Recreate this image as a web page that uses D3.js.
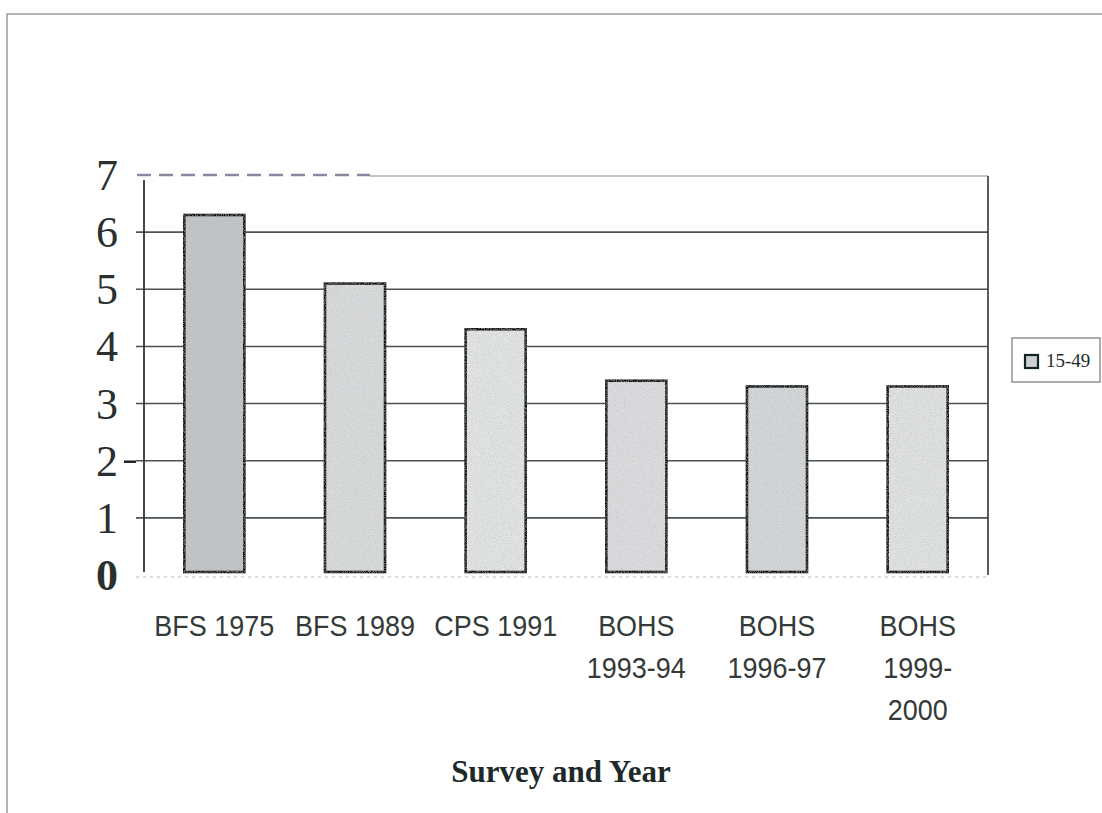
<!DOCTYPE html>
<html lang="en">
<head>
    <meta charset="UTF-8">
    <title>Survey and Year</title>
    <script src="https://d3js.org/d3.v7.min.js"></script>
    <style>
        body { margin: 0; background: #fff; }
    </style>
</head>
<body>

    <script>

        var categories = [["BFS 1975"], ["BFS 1989"], ["CPS 1991"], ["BOHS", "1993-94"], ["BOHS", "1996-97"], ["BOHS", "1999-", "2000"]];
        var values = [6.3, 5.1, 4.3, 3.4, 3.3, 3.3];
        var yTicks = [0, 1, 2, 3, 4, 5, 6, 7];
        var seriesName = "15-49";
        var barFills = ["#c2c5c7", "#d8dadc", "#e2e4e5", "#dadcde", "#d4d7d9", "#e0e2e3"];

        var width = 1102;
        var height = 813;
        var plotLeft = 144, plotRight = 988, plotTop = 175, plotBottom = 575;

        var keys = categories.map(function (d) { return d.join(" "); });

        var x = d3.scaleBand()
            .domain(keys)
            .range([plotLeft, plotRight])
            .paddingInner(0.573)
            .paddingOuter(0.2865);

        var y = d3.scaleLinear()
            .domain([0, 7])
            .range([plotBottom, plotTop]);

        var svg = d3.select("body")
            .append("svg")
            .attr("width", width)
            .attr("height", height);

        // grainy look of the scanned bars
        var grain = svg.append("defs").append("filter").attr("id", "grain");
        grain.append("feTurbulence")
            .attr("type", "fractalNoise")
            .attr("baseFrequency", 0.85)
            .attr("numOctaves", 2)
            .attr("seed", 3)
            .attr("result", "noise");
        grain.append("feColorMatrix")
            .attr("in", "noise")
            .attr("type", "matrix")
            .attr("values", "0 0 0 0 0.45  0 0 0 0 0.46  0 0 0 0 0.47  0 0 0 1.2 -0.5")
            .attr("result", "dots");
        grain.append("feComposite")
            .attr("in", "dots")
            .attr("in2", "SourceGraphic")
            .attr("operator", "in")
            .attr("result", "clipped");
        var merge = grain.append("feMerge");
        merge.append("feMergeNode").attr("in", "SourceGraphic");
        merge.append("feMergeNode").attr("in", "clipped");

        // outer frame of the scanned page
        svg.append("path")
            .attr("d", "M7," + height + "V14H" + width)
            .attr("fill", "none")
            .attr("stroke", "#9a9a9a")
            .attr("stroke-width", 1.5);

        // grid lines
        svg.append("g")
            .selectAll("line")
            .data(yTicks.filter(function (d) { return d > 0 && d < 7; }))
            .enter()
                .append("line")
                .attr("x1", plotLeft - 8)
                .attr("x2", plotRight)
                .attr("y1", function (d) { return y(d); })
                .attr("y2", function (d) { return y(d); })
                .attr("stroke", "#4a5552")
                .attr("stroke-width", 1.6);

        // top border: dashed part then solid
        svg.append("line")
            .attr("x1", plotLeft - 7).attr("x2", 370)
            .attr("y1", y(7)).attr("y2", y(7))
            .attr("stroke", "#8a88a0")
            .attr("stroke-width", 2.5)
            .attr("stroke-dasharray", "14,8");
        svg.append("line")
            .attr("x1", 370).attr("x2", plotRight)
            .attr("y1", y(7) + 1).attr("y2", y(7) + 1)
            .attr("stroke", "#8c8c8c")
            .attr("stroke-width", 1.2);

        // right border
        svg.append("line")
            .attr("x1", plotRight).attr("x2", plotRight)
            .attr("y1", y(7) + 1).attr("y2", plotBottom)
            .attr("stroke", "#333")
            .attr("stroke-width", 1.6);

        // left axis line
        svg.append("line")
            .attr("x1", plotLeft).attr("x2", plotLeft)
            .attr("y1", y(7) + 5).attr("y2", plotBottom - 3)
            .attr("stroke", "#333")
            .attr("stroke-width", 1.8);

        // faint bottom axis
        svg.append("line")
            .attr("x1", plotLeft - 8).attr("x2", plotRight)
            .attr("y1", plotBottom + 2).attr("y2", plotBottom + 2)
            .attr("stroke", "#bbb")
            .attr("stroke-width", 1)
            .attr("stroke-dasharray", "3,4");

        // bars
        svg.append("g")
            .selectAll("rect")
            .data(values)
            .enter()
                .append("rect")
                .attr("x", function (d, i) { return x(keys[i]); })
                .attr("width", x.bandwidth())
                .attr("y", function (d) { return y(d); })
                .attr("height", function (d) { return y(0) - y(d) - 3; })
                .attr("fill", function (d, i) { return barFills[i]; })
                .attr("filter", "url(#grain)")
                .attr("stroke", "#111")
                .attr("stroke-width", 2.6);

        // y tick labels
        svg.append("g")
            .selectAll("text")
            .data(yTicks)
            .enter()
                .append("text")
                .attr("x", 118)
                .attr("y", function (d) { return y(d); })
                .attr("dy", "0.34em")
                .attr("text-anchor", "end")
                .attr("font-family", "'Liberation Serif', 'Times New Roman', serif")
                .attr("font-size", 44)
                .attr("font-weight", function (d) { return d === 0 ? "bold" : "normal"; })
                .attr("fill", "#2a302e")
                .text(function (d) { return d; });

        // little tick mark next to the 2
        svg.append("line")
            .attr("x1", 124).attr("x2", 136)
            .attr("y1", y(2) + 1).attr("y2", y(2) + 1)
            .attr("stroke", "#222")
            .attr("stroke-width", 2.5);

        // x labels
        var xl = svg.append("g")
            .selectAll("g")
            .data(categories)
            .enter()
                .append("g")
                .attr("transform", function (d, i) {
                    return "translate(" + (x(keys[i]) + x.bandwidth() / 2) + ",636) scale(0.93,1)";
                })
                .append("text")
                .attr("text-anchor", "middle")
                .attr("font-family", "'Liberation Sans', Arial, sans-serif")
                .attr("font-size", 29)
                .attr("fill", "#333a38");

        xl.selectAll("tspan")
            .data(function (d) { return d; })
            .enter()
                .append("tspan")
                .attr("x", 0)
                .attr("dy", function (d, i) { return i === 0 ? 0 : 42; })
                .text(function (d) { return d; });

        // axis title
        svg.append("text")
            .attr("x", 561)
            .attr("y", 782)
            .attr("text-anchor", "middle")
            .attr("font-family", "'Liberation Serif', 'Times New Roman', serif")
            .attr("font-size", 31)
            .attr("font-weight", "bold")
            .attr("fill", "#1e2a2a")
            .text("Survey and Year");

        // legend
        var legend = svg.append("g").attr("transform", "translate(1012, 338)");
        legend.append("rect")
            .attr("width", 88).attr("height", 44)
            .attr("fill", "#fff")
            .attr("stroke", "#777")
            .attr("stroke-width", 1.2);
        legend.append("rect")
            .attr("x", 13).attr("y", 17)
            .attr("width", 13).attr("height", 13)
            .attr("fill", "#ccd0d0")
            .attr("stroke", "#112222")
            .attr("stroke-width", 2.2);
        legend.append("text")
            .attr("x", 34).attr("y", 29)
            .attr("font-family", "'Liberation Serif', 'Times New Roman', serif")
            .attr("font-size", 19)
            .attr("fill", "#1e2a2a")
            .text(seriesName);

    </script>

</body>
</html>
